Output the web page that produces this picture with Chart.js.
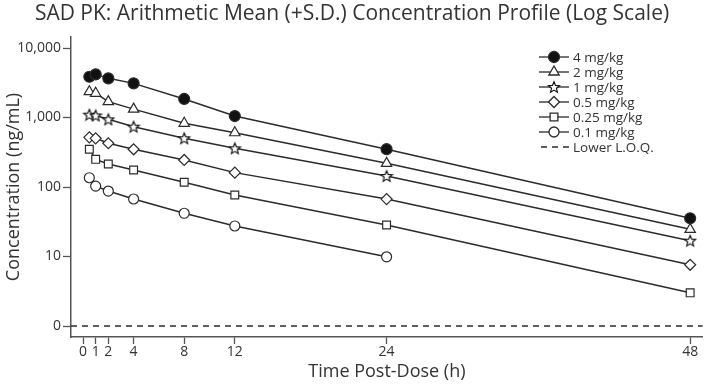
<!DOCTYPE html>
<html>
<head>
<meta charset="utf-8">
<script src="https://cdn.jsdelivr.net/npm/chart.js@4.4.1/dist/chart.umd.min.js"></script>
<style>
  html, body { margin: 0; padding: 0; background: #fff; }
  #wrap { width: 710px; height: 385px; position: relative; }
</style>
</head>
<body>
<div id="wrap"><canvas id="grafico"></canvas></div>
<script>
// tempos de coleta (h)
const tempos = [0.5, 1, 2, 4, 8, 12, 24, 48];
const xTicks = [0, 1, 2, 4, 8, 12, 24, 48];
const yTicks = [1, 10, 100, 1000, 10000];
const loq = 1;

const dose4 = [3860, 4180, 3660, 3100, 1850, 1050, 350, 35.5];
const dose2 = [2350, 2230, 1690, 1320, 826, 604, 219, 24.6];
const dose1 = [1100, 1070, 942, 738, 502, 360, 144, 16.9];
const dose05 = [519, 502, 426, 349, 245, 161, 67, 7.6];
const dose025 = [349, 250, 214, 176, 117, 76.7, 28.4, 3.0];
const dose01 = [136, 103, 87.5, 67.2, 41.9, 27.5, 9.9];

const rotulos = ['4 mg/kg', '2 mg/kg', '1 mg/kg', '0.5 mg/kg', '0.25 mg/kg', '0.1 mg/kg'];

const corLinha = '#2b2b2b';

// estrela de 5 pontas (o "star" do Chart.js eh um asterisco)
function fazerEstrela() {
    const c = document.createElement('canvas');
    c.width = 14; c.height = 14;
    const g = c.getContext('2d');
    g.beginPath();
    for (let i = 0; i < 10; i++) {
        const r = i % 2 === 0 ? 5.8 : 2.6;
        const a = -Math.PI / 2 + i * Math.PI / 5;
        const px = 7 + r * Math.cos(a), py = 7.5 + r * Math.sin(a);
        if (i === 0) g.moveTo(px, py); else g.lineTo(px, py);
    }
    g.closePath();
    g.fillStyle = '#fff';
    g.fill();
    g.lineWidth = 1.2;
    g.strokeStyle = '#111';
    g.stroke();
    return c;
}
const estrela = fazerEstrela();

function serie(label, valores, estilo, preenchido, raio) {
    return {
        label: label,
        data: valores.map((v, i) => ({ x: tempos[i], y: v })),
        borderColor: corLinha,
        borderWidth: 1.5,
        pointStyle: estilo,
        pointRadius: raio,
        pointBorderWidth: 1.2,
        pointBorderColor: corLinha,
        pointBackgroundColor: preenchido ? '#111' : '#fff',
        tension: 0,
        fill: false
    };
}

const xMin = -0.95, xMax = 49;

const datasets = [
    serie(rotulos[0], dose4, 'circle', true, 5.5),
    serie(rotulos[1], dose2, 'triangle', false, 6),
    serie(rotulos[2], dose1, estrela, false, 6),
    serie(rotulos[3], dose05, 'rectRot', false, 5.5),
    serie(rotulos[4], dose025, 'rect', false, 5.5),
    serie(rotulos[5], dose01, 'circle', false, 5),
    {
        label: 'Lower L.O.Q.',
        data: [{ x: xMin, y: loq }, { x: xMax, y: loq }],
        borderColor: corLinha,
        borderWidth: 1.3,
        borderDash: [6, 5],
        pointRadius: 0,
        fill: false
    }
];

const fonte = '"Open Sans"';

const desenhoExtra = {
    id: 'desenhoExtra',
    afterDraw(chart) {
        const ctx = chart.ctx;
        ctx.save();
        // titulo
        ctx.fillStyle = '#333';
        ctx.font = '21px ' + fonte;
        ctx.textAlign = 'center';
        ctx.textBaseline = 'alphabetic';
        ctx.fillText('SAD PK: Arithmetic Mean (+S.D.) Concentration Profile (Log Scale)', 352, 20);

        // legenda
        const x0 = 539, passo = 15;
        let y = 57;
        ctx.font = '13.5px ' + fonte;
        ctx.textAlign = 'left';
        ctx.textBaseline = 'middle';
        chart.data.datasets.forEach((ds, i) => {
            ctx.strokeStyle = corLinha;
            ctx.lineWidth = 1.3;
            ctx.setLineDash(ds.borderDash || []);
            ctx.beginPath();
            if (ds.borderDash) {
                ctx.moveTo(x0 + 2, y); ctx.lineTo(x0 + 30, y);
            } else {
                ctx.moveTo(x0, y); ctx.lineTo(x0 + 30, y);
            }
            ctx.stroke();
            ctx.setLineDash([]);
            if (ds.pointRadius > 0) {
                ctx.fillStyle = ds.pointBackgroundColor;
                ctx.strokeStyle = corLinha;
                Chart.helpers.drawPoint(ctx, {
                    pointStyle: ds.pointStyle,
                    radius: ds.pointRadius,
                    borderWidth: ds.pointBorderWidth,
                    rotation: 0
                }, x0 + 15, y);
            }
            ctx.fillStyle = '#333';
            ctx.fillText(ds.label, x0 + 34, y + 1);
            y += passo;
        });
        ctx.restore();
    }
};

const ctx = document.getElementById('grafico').getContext('2d');
const grafico = new Chart(ctx, {
    type: 'line',
    data: { datasets: datasets },
    plugins: [desenhoExtra],
    options: {
        responsive: true,
        maintainAspectRatio: false,
        animation: false,
        layout: { padding: { top: 37, right: 5, left: 0, bottom: 0 } },
        plugins: {
            legend: { display: false },
            tooltip: { enabled: false }
        },
        scales: {
            x: {
                type: 'linear',
                min: xMin,
                max: xMax,
                afterBuildTicks: s => { s.ticks = xTicks.map(v => ({ value: v })); },
                afterFit: s => { s.height = 48; },
                ticks: {
                    autoSkip: false,
                    maxRotation: 0,
                    padding: 0,
                    color: '#333',
                    font: { family: fonte, size: 14 }
                },
                grid: {
                    drawOnChartArea: false,
                    drawTicks: true,
                    tickLength: 7,
                    tickColor: '#555',
                    tickWidth: 1.3
                },
                border: { color: '#555', width: 1.5 },
                title: {
                    display: true,
                    text: 'Time Post-Dose (h)',
                    color: '#333',
                    font: { family: fonte, size: 18 },
                    padding: { top: 0, bottom: 2 }
                }
            },
            y: {
                type: 'logarithmic',
                min: 0.695,
                max: 14400,
                afterBuildTicks: s => { s.ticks = yTicks.map(v => ({ value: v })); },
                afterFit: s => { s.width = 71; },
                ticks: {
                    autoSkip: false,
                    padding: 2,
                    color: '#333',
                    font: { family: fonte, size: 14 },
                    callback: v => v === 1 ? '0' : Number(v).toLocaleString('en-US')
                },
                grid: {
                    drawOnChartArea: false,
                    drawTicks: true,
                    tickLength: 8,
                    tickColor: '#555',
                    tickWidth: 1.3
                },
                border: { color: '#555', width: 1.5 },
                title: {
                    display: true,
                    text: 'Concentration (ng/mL)',
                    color: '#333',
                    font: { family: fonte, size: 18 },
                    padding: { top: 3, bottom: 0 }
                }
            }
        }
    }
});
</script>
</body>
</html>
